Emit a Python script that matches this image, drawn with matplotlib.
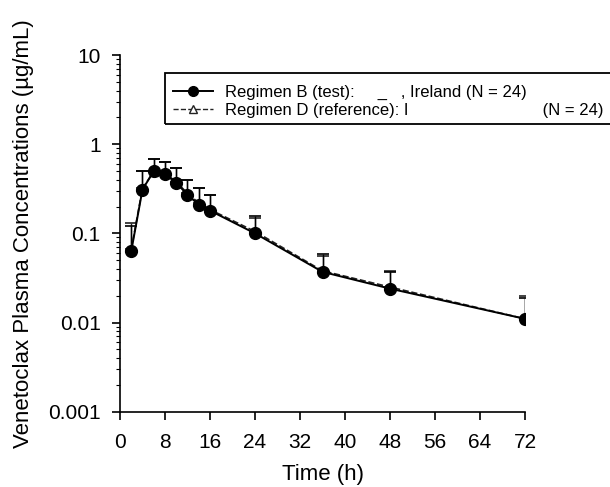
import matplotlib.pyplot as plt
from matplotlib.lines import Line2D
from matplotlib.patches import Rectangle

plt.rcParams['font.family'] = ['Liberation Sans', 'DejaVu Sans']

# time points (h) and mean concentrations (ug/mL)
time_h = [2, 4, 6, 8, 10, 12, 14, 16, 24, 36, 48, 72]
regimen_b = [0.063, 0.31, 0.50, 0.46, 0.37, 0.27, 0.21, 0.18, 0.10, 0.037, 0.024, 0.011]
regimen_b_sd = [0.057, 0.19, 0.18, 0.17, 0.17, 0.13, 0.11, 0.09, 0.055, 0.021, 0.013, 0.008]
regimen_d = [0.066, 0.32, 0.49, 0.47, 0.38, 0.28, 0.22, 0.185, 0.105, 0.038, 0.025, 0.011]
regimen_d_sd = [0.064, 0.18, 0.19, 0.16, 0.16, 0.12, 0.10, 0.085, 0.045, 0.018, 0.013, 0.009]

label_b = "Regimen B (test):     _   , Ireland (N = 24)"
label_d = "Regimen D (reference): I" + " " * 29 + "(N = 24)"

x_ticks = [0, 8, 16, 24, 32, 40, 48, 56, 64, 72]
y_ticks = [0.001, 0.01, 0.1, 1, 10]
y_labels = ['0.001', '0.01', '0.1', '1', '10']

fig = plt.figure(figsize=(6.1, 4.87), dpi=100)
ax = fig.add_axes([0.1967, 0.1546, 0.664, 0.7324])

ax.errorbar(time_h, regimen_d, yerr=[[0] * len(regimen_d_sd), regimen_d_sd],
            color='#222222', ls='--', lw=1.2, marker='^', ms=6, mfc='white',
            mec='#222222', capsize=4.5, elinewidth=1, capthick=1.2)
ax.errorbar(time_h, regimen_b, yerr=[[0] * len(regimen_b_sd), regimen_b_sd],
            color='black', ls='-', lw=1.4, marker='o', ms=8.5, mfc='black',
            capsize=4.5, elinewidth=1, capthick=1.2)

ax.set_yscale('log')
ax.set_ylim(0.001, 10)
ax.set_xlim(0, 72)
ax.set_xticks(x_ticks)
ax.set_yticks(y_ticks)
ax.set_yticklabels(y_labels)
ax.tick_params(labelsize=15, direction='out', width=1.2, color='black')
ax.tick_params(axis='x', length=6, pad=9)
ax.tick_params(axis='y', length=6, pad=8)
ax.tick_params(which='minor', direction='out', length=3, width=0.8)

for side in ['top', 'right']:
    ax.spines[side].set_visible(False)
for side in ['left', 'bottom']:
    ax.spines[side].set_linewidth(1.2)

ax.set_xlabel('Time (h)', fontsize=16, labelpad=9)
ax.set_ylabel('Venetoclax Plasma Concentrations (\u00b5g/mL)', fontsize=16, labelpad=10)

# legend box runs past the right edge of the figure
fig.patches.append(Rectangle((165 / 610, 1 - 124 / 487), 470 / 610, 51 / 487,
                             transform=fig.transFigure, fill=False,
                             edgecolor='black', lw=1.3))

handles = [
    Line2D([], [], color='black', lw=1.4, marker='o', ms=7, mfc='black'),
    Line2D([], [], color='#222222', lw=1.0, ls='--', marker='^', ms=6, mfc='white'),
]
leg = ax.legend(handles, [label_b, label_d], loc='upper left',
                bbox_to_anchor=(173 / 610, 1 - 85 / 487), bbox_transform=fig.transFigure,
                fontsize=12, frameon=False, handlelength=2.4, handletextpad=0.7,
                borderpad=0, labelspacing=0.18, borderaxespad=0)

fig.savefig('out.png', dpi=100)
